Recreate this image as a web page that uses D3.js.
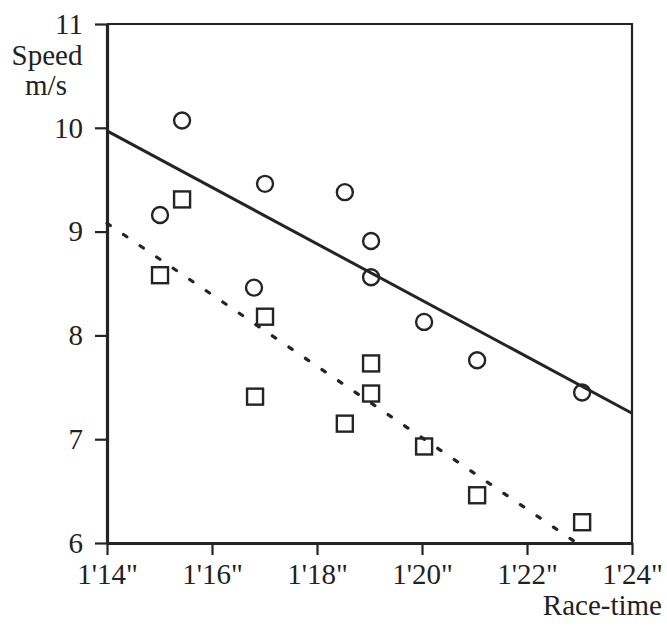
<!DOCTYPE html>
<html>
<head>
<meta charset="utf-8">
<script src="https://cdn.jsdelivr.net/npm/d3@7"></script>
<style>
  body { margin: 0; background: #fff; }
  text { font-family: "Liberation Serif", "DejaVu Serif", serif; fill: #222; }
</style>
</head>
<body>
<div id="chart"></div>
<script>
// race time in seconds (1'14" = 74 s), speed in m/s
var circleTimes  = [75.43, 75.01, 77.01, 76.8, 78.53, 79.03, 79.03, 80.04, 81.05, 83.05];
var circleSpeeds = [10.07, 9.16, 9.46, 8.46, 9.38, 8.91, 8.56, 8.13, 7.76, 7.45];
var squareTimes  = [75.43, 75.01, 77.01, 76.82, 78.53, 79.03, 79.03, 80.04, 81.05, 83.05];
var squareSpeeds = [9.31, 8.58, 8.18, 7.41, 7.15, 7.73, 7.44, 6.93, 6.46, 6.2];
// regression lines, [time, speed] end points
var solidLine  = [[74, 9.97], [84, 7.25]];
var dashedLine = [[74, 9.08], [82.95, 6.0]];
var xTicks = [74, 76, 78, 80, 82, 84];
var yTicks = [6, 7, 8, 9, 10, 11];

var margin = { top: 24, right: 35, bottom: 86, left: 107 },
    width = 667 - margin.left - margin.right,
    height = 629 - margin.top - margin.bottom;

var ink = "#242424";
var fontSize = "29px";

var svg = d3.select("#chart")
    .append("svg")
        .attr("width", 667)
        .attr("height", 629)
    .append("g")
        .attr("transform", "translate(" + margin.left + "," + margin.top + ")");

var x = d3.scaleLinear().domain([74, 84]).range([0, width]);
var y = d3.scaleLinear().domain([6, 11]).range([height, 0]);

// top and right border of the frame
svg.append("path")
    .attr("d", "M0,0H" + width + "V" + height)
    .attr("fill", "none")
    .attr("stroke", ink)
    .attr("stroke-width", 2.2);

var xAxis = svg.append("g")
    .attr("transform", "translate(0," + height + ")")
    .call(d3.axisBottom(x)
        .tickValues(xTicks)
        .tickSize(12)
        .tickSizeOuter(0)
        .tickPadding(8)
        .tickFormat(function (d) { return "1'" + (d - 60) + '"'; }));

var yAxis = svg.append("g")
    .call(d3.axisLeft(y)
        .tickValues(yTicks)
        .tickSize(12)
        .tickSizeOuter(0)
        .tickPadding(12)
        .tickFormat(d3.format("d")));

[xAxis, yAxis].forEach(function (a) {
    a.select(".domain").attr("stroke", ink).attr("stroke-width", 3.2);
    a.selectAll(".tick line").attr("stroke", ink).attr("stroke-width", 2.2);
    a.selectAll(".tick text")
        .style("font-size", fontSize)
        .style("font-family", "'Liberation Serif', serif")
        .attr("fill", "#222");
});

// regression lines
var line = d3.line()
    .x(function (d) { return x(d[0]); })
    .y(function (d) { return y(d[1]); });

svg.append("path")
    .attr("d", line(solidLine))
    .attr("fill", "none")
    .attr("stroke", ink)
    .attr("stroke-width", 3);

svg.append("path")
    .attr("d", line(dashedLine))
    .attr("fill", "none")
    .attr("stroke", ink)
    .attr("stroke-width", 3.2)
    .attr("stroke-linecap", "round")
    .attr("stroke-dasharray", "4,16");

// circles
svg.selectAll(".circ")
    .data(d3.zip(circleTimes, circleSpeeds))
    .enter().append("circle")
    .attr("class", "circ")
    .attr("cx", function (d) { return x(d[0]); })
    .attr("cy", function (d) { return y(d[1]); })
    .attr("r", 8)
    .attr("fill", "none")
    .attr("stroke", ink)
    .attr("stroke-width", 2.4);

// squares
var s = 16;
svg.selectAll(".sq")
    .data(d3.zip(squareTimes, squareSpeeds))
    .enter().append("rect")
    .attr("class", "sq")
    .attr("x", function (d) { return x(d[0]) - s / 2; })
    .attr("y", function (d) { return y(d[1]) - s / 2; })
    .attr("width", s)
    .attr("height", s)
    .attr("fill", "none")
    .attr("stroke", ink)
    .attr("stroke-width", 2.4);

// axis titles
svg.append("text")
    .attr("x", -60)
    .attr("y", 41)
    .attr("text-anchor", "middle")
    .style("font-size", fontSize)
    .text("Speed");
svg.append("text")
    .attr("x", -61)
    .attr("y", 71)
    .attr("text-anchor", "middle")
    .style("font-size", fontSize)
    .text("m/s");
svg.append("text")
    .attr("x", width + 30)
    .attr("y", height + 72)
    .attr("text-anchor", "end")
    .style("font-size", fontSize)
    .text("Race-time");
</script>
</body>
</html>
